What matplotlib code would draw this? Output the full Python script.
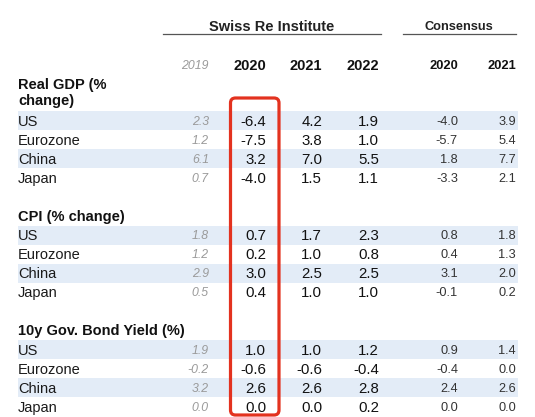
import matplotlib
matplotlib.use("Agg")
import matplotlib.pyplot as plt
from matplotlib.patches import FancyBboxPatch, Rectangle

plt.rcParams['font.family'] = ['Liberation Sans', 'DejaVu Sans']

sections = ["Real GDP (%\nchange)", "CPI (% change)", "10y Gov. Bond Yield (%)"]
countries = ["US", "Eurozone", "China", "Japan"]

# one list per column, one inner list per section
v2019 = [[2.3, 1.2, 6.1, 0.7], [1.8, 1.2, 2.9, 0.5], [1.9, -0.2, 3.2, 0.0]]
sri2020 = [[-6.4, -7.5, 3.2, -4.0], [0.7, 0.2, 3.0, 0.4], [1.0, -0.6, 2.6, 0.0]]
sri2021 = [[4.2, 3.8, 7.0, 1.5], [1.7, 1.0, 2.5, 1.0], [1.0, -0.6, 2.6, 0.0]]
sri2022 = [[1.9, 1.0, 5.5, 1.1], [2.3, 0.8, 2.5, 1.0], [1.2, -0.4, 2.8, 0.2]]
cons2020 = [[-4.0, -5.7, 1.8, -3.3], [0.8, 0.4, 3.1, -0.1], [0.9, -0.4, 2.4, 0.0]]
cons2021 = [[3.9, 5.4, 7.7, 2.1], [1.8, 1.3, 2.0, 0.2], [1.4, 0.0, 2.6, 0.0]]

year_labels = ["2019", "2020", "2021", "2022", "2020", "2021"]

W, H = 535, 417
fig = plt.figure(figsize=(W / 100, H / 100), dpi=100)
ax = fig.add_axes([0, 0, 1, 1])
ax.set_xlim(0, W)
ax.set_ylim(H, 0)
ax.axis('off')

# layout
col_x = [209, 266, 322, 379, 458, 516]   # right edges of the number columns
row_h = 19.1
y0 = 121
label_x = 18
band_color = '#e3ecf7'

def row_y(i):
    return y0 + i * row_h

# group headers
ax.text(272, 27, "Swiss Re Institute", ha='center', va='center',
        fontsize=10.5, fontweight='bold', color='#222222')
ax.plot([163, 381], [34, 34], color='#555555', lw=0.9)
ax.text(459, 27, "Consensus", ha='center', va='center',
        fontsize=9.2, fontweight='bold', color='#222222')
ax.plot([403, 516], [34, 34], color='#555555', lw=0.9)

# year header row
for j, lab in enumerate(year_labels):
    if j == 0:
        ax.text(col_x[j], 66, lab, ha='right', va='center', fontsize=8.8,
                style='italic', color='#9a9a9a')
    elif j < 4:
        ax.text(col_x[j], 66, lab, ha='right', va='center', fontsize=10.5,
                fontweight='bold', color='#111111')
    else:
        ax.text(col_x[j], 66, lab, ha='right', va='center', fontsize=9.3,
                fontweight='bold', color='#111111')

for s, name in enumerate(sections):
    base = s * 6
    if s == 0:
        ax.text(label_x, row_y(base - 1) - 9, name, ha='left', va='center',
                fontsize=10.5, fontweight='bold', color='#111111',
                linespacing=1.15)
    else:
        ax.text(label_x, row_y(base - 1), name, ha='left', va='center',
                fontsize=10.5, fontweight='bold', color='#111111')
    cols = [v2019[s], sri2020[s], sri2021[s], sri2022[s], cons2020[s], cons2021[s]]
    for k, c in enumerate(countries):
        y = row_y(base + k)
        if k % 2 == 0:
            ax.add_patch(Rectangle((label_x, y - row_h / 2 - 0.5), 518 - label_x, row_h,
                                   facecolor=band_color, edgecolor='none', zorder=0))
        ax.text(label_x, y + 0.5, c, ha='left', va='center', fontsize=10.5, color='#1a1a1a')
        for j, vals in enumerate(cols):
            txt = "%.1f" % vals[k]
            if j == 0:
                ax.text(col_x[j], y + 0.5, txt, ha='right', va='center', fontsize=8.8,
                        style='italic', color='#9a9a9a')
            elif j < 4:
                ax.text(col_x[j], y + 0.5, txt, ha='right', va='center', fontsize=10.8,
                        color='#111111')
            else:
                ax.text(col_x[j], y + 0.5, txt, ha='right', va='center', fontsize=9.2,
                        color='#333333')

# red highlight around SRI 2020
box = FancyBboxPatch((230.5, 98), 48.5, 317,
                     boxstyle="round,pad=0,rounding_size=5",
                     facecolor='none', edgecolor='#e3321f', lw=2.3, zorder=5)
ax.add_patch(box)

fig.savefig("out.png", dpi=100)
